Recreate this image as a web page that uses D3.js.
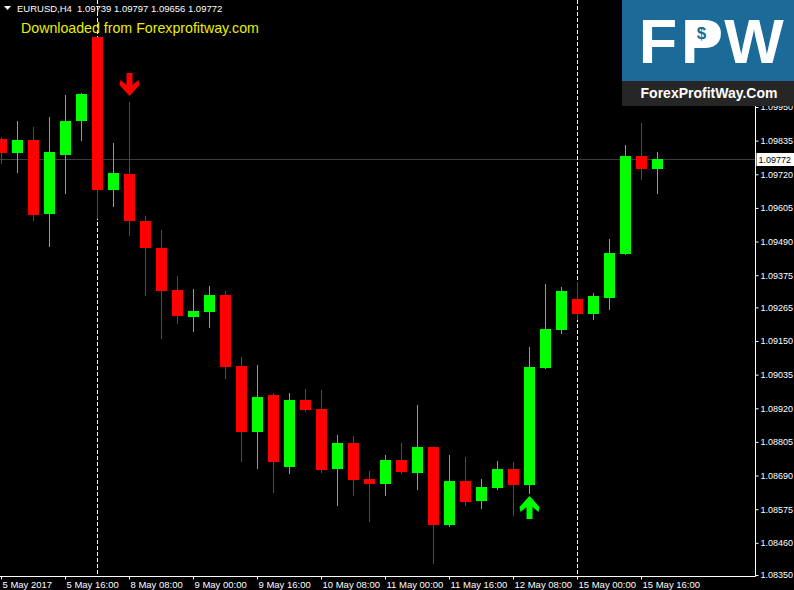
<!DOCTYPE html>
<html><head><meta charset="utf-8">
<script src="https://cdn.jsdelivr.net/npm/d3@7"></script>
<style>html,body{margin:0;padding:0;background:#000;overflow:hidden}svg{display:block}</style>
</head><body>
<script>
// ---- data ----
const symbolTitle = "EURUSD,H4";
const ohlcText = "1.09739 1.09797 1.09656 1.09772";
const watermark = "Downloaded from Forexprofitway.com";
const open  = [1.09841,1.09793,1.09837,1.09584,1.09786,1.09902,1.10189,1.09666,1.09721,1.09560,1.09468,1.09324,1.09232,1.09249,1.09307,1.09065,1.08839,1.08965,1.08719,1.08948,1.08918,1.08712,1.08801,1.08678,1.08661,1.08743,1.08699,1.08788,1.08521,1.08671,1.08603,1.08647,1.08712,1.08658,1.09058,1.09188,1.09294,1.09242,1.09297,1.09447,1.09782,1.09739];
const high  = [1.09847,1.09902,1.09882,1.09916,1.09991,1.09998,1.10189,1.09827,1.09967,1.09577,1.09530,1.09372,1.09328,1.09338,1.09321,1.09095,1.09068,1.08972,1.08972,1.08986,1.08982,1.08829,1.08825,1.08706,1.08760,1.08801,1.08931,1.08788,1.08760,1.08753,1.08678,1.08740,1.08736,1.09130,1.09345,1.09335,1.09352,1.09314,1.09499,1.09820,1.09895,1.09797];
const low   = [1.09759,1.09728,1.09564,1.09475,1.09656,1.09837,1.09571,1.09612,1.09512,1.09307,1.09160,1.09212,1.09184,1.09198,1.09024,1.08740,1.08716,1.08634,1.08699,1.08911,1.08702,1.08589,1.08623,1.08535,1.08623,1.08699,1.08644,1.08391,1.08518,1.08589,1.08579,1.08644,1.08555,1.08630,1.09058,1.09177,1.09225,1.09225,1.09259,1.09447,1.09704,1.09656];
const close = [1.09793,1.09837,1.09581,1.09796,1.09902,1.09994,1.09666,1.09724,1.09560,1.09468,1.09321,1.09236,1.09253,1.09307,1.09061,1.08839,1.08959,1.08736,1.08948,1.08914,1.08709,1.08801,1.08675,1.08661,1.08743,1.08702,1.08788,1.08521,1.08671,1.08600,1.08651,1.08712,1.08658,1.09061,1.09191,1.09321,1.09242,1.09304,1.09451,1.09782,1.09738,1.09772];
const priceTicks = [1.09950,1.09835,1.09720,1.09605,1.09490,1.09375,1.09265,1.09150,1.09035,1.08920,1.08805,1.08690,1.08575,1.08460,1.08350];
const timeLabels = ["5 May 2017","5 May 16:00","8 May 08:00","9 May 00:00","9 May 16:00","10 May 08:00","11 May 00:00","11 May 16:00","12 May 08:00","15 May 00:00","15 May 16:00"];
const timeLabelBars = [0,4,8,12,16,20,24,28,32,36,40];
const separatorBars = [6,36];
const signalBars = [8,33];
const signalDirs = ["down","up"];
const currentPrice = 1.09772;
const logoLetters = ["F","P","W"];
const logoSite = "ForexProfitWay.Com";

// ---- drawing ----
const W = 794, H = 590;
const svg = d3.select("body").append("svg").attr("width", W).attr("height", H);
svg.append("rect").attr("width", W).attr("height", H).attr("fill", "#000");

const x = d3.scaleLinear().domain([0, 41]).range([1, 657]);
const y = d3.scaleLinear().domain([1.0835, 1.0995]).range([575, 107]);
const axisX = 755.5, axisY = 576.5;
const font = "'Liberation Sans', Arial, sans-serif";
const fs = 9.5;
const fsPrice = 9;

// current price line
svg.append("line").attr("x1", 0).attr("x2", axisX).attr("y1", Math.round(y(currentPrice)) + 0.5).attr("y2", Math.round(y(currentPrice)) + 0.5)
  .attr("stroke", "#3c3c3c").attr("stroke-width", 1);

// period separators
svg.selectAll("line.sep").data(separatorBars).enter().append("line")
  .attr("x1", d => Math.round(x(d)) + 0.5).attr("x2", d => Math.round(x(d)) + 0.5)
  .attr("y1", 0).attr("y2", axisY)
  .attr("stroke", "#fff").attr("stroke-width", 1).attr("stroke-dasharray", "4,2");

// candles
const idx = d3.range(open.length);
const col = i => close[i] >= open[i] ? "#00ff00" : "#ff0000";
const g = svg.append("g");
g.selectAll("line.wick").data(idx).enter().append("line")
  .attr("x1", i => Math.round(x(i)) + 0.5).attr("x2", i => Math.round(x(i)) + 0.5)
  .attr("y1", i => Math.round(y(high[i]))).attr("y2", i => Math.round(y(low[i])) + 1)
  .attr("stroke", col).attr("stroke-width", 1);
g.selectAll("rect.body").data(idx).enter().append("rect")
  .attr("x", i => Math.round(x(i)) - 5).attr("width", 11)
  .attr("y", i => Math.round(y(Math.max(open[i], close[i]))))
  .attr("height", i => Math.max(1, Math.round(y(Math.min(open[i], close[i]))) - Math.round(y(Math.max(open[i], close[i])))))
  .attr("fill", col);

// signal arrows
const arrowPath = "M-3,0 L3,0 L3,12 L9,7 L10,12 L0,23 L-10,12 L-9,7 L-3,12 Z";
signalBars.forEach((b, k) => {
  const cx = Math.round(x(b)) + 0.5;
  if (signalDirs[k] === "down") {
    const tip = Math.round(y(high[b])) - 6;
    svg.append("path").attr("d", arrowPath).attr("fill", "#ff0000")
      .attr("transform", `translate(${cx},${tip - 23})`);
  } else {
    const tip = Math.round(y(low[b])) + 3;
    svg.append("path").attr("d", arrowPath).attr("fill", "#00ff00")
      .attr("transform", `translate(${cx},${tip + 23}) scale(1,-1)`);
  }
});

// axes lines
svg.append("line").attr("x1", axisX).attr("x2", axisX).attr("y1", 0).attr("y2", axisY).attr("stroke", "#fff");
svg.append("line").attr("x1", 0).attr("x2", axisX).attr("y1", axisY).attr("y2", axisY).attr("stroke", "#fff");

// right price axis
const yAxis = d3.axisRight(y).tickValues(priceTicks).tickSize(3).tickPadding(2).tickFormat(d3.format(".5f"));
const ya = svg.append("g").attr("transform", `translate(${axisX},0)`).call(yAxis);
ya.select(".domain").remove();
ya.selectAll(".tick line").attr("stroke", "#fff");
ya.selectAll(".tick text").attr("fill", "#fff").attr("font-family", font).attr("font-size", fsPrice);

// current price label
const cpY = Math.round(y(currentPrice));
svg.append("rect").attr("x", axisX + 1).attr("y", cpY - 6).attr("width", W - axisX).attr("height", 13).attr("fill", "#fff");
svg.append("text").attr("x", axisX + 3).attr("y", cpY + 4).attr("fill", "#000")
  .attr("font-family", font).attr("font-size", fsPrice).text(d3.format(".5f")(currentPrice));

// bottom time axis
const xa = svg.append("g");
timeLabelBars.forEach((b, k) => {
  const tx = Math.round(x(b)) + 0.5;
  xa.append("line").attr("x1", tx).attr("x2", tx).attr("y1", axisY).attr("y2", axisY + 3).attr("stroke", "#fff");
  xa.append("text").attr("x", tx + 1).attr("y", 588).attr("fill", "#fff")
    .attr("font-family", font).attr("font-size", fs).text(timeLabels[k]);
});

// header
svg.append("path").attr("d", "M4,6 L11,6 L7.5,10 Z").attr("fill", "#fff");
svg.append("text").attr("x", 17).attr("y", 12).attr("fill", "#fff").attr("font-family", font).attr("font-size", fs)
  .text(symbolTitle);
svg.append("text").attr("x", 77).attr("y", 12).attr("fill", "#fff").attr("font-family", font).attr("font-size", fs)
  .text(ohlcText);
svg.append("text").attr("x", 21).attr("y", 33).attr("fill", "#e8ee00").attr("font-family", font).attr("font-size", 14.2)
  .text(watermark);

// logo
const logo = svg.append("g");
logo.append("rect").attr("x", 622).attr("y", 0).attr("width", 172).attr("height", 81).attr("fill", "#1b6a98");
logo.append("rect").attr("x", 622).attr("y", 81).attr("width", 172).attr("height", 25).attr("fill", "#262626");
const letterX = [658, 702, 754];
logo.selectAll("text.big").data(logoLetters).enter().append("text")
  .attr("x", (d, i) => letterX[i]).attr("y", 63).attr("text-anchor", "middle")
  .attr("fill", "#fff").attr("font-family", font).attr("font-weight", "bold").attr("font-size", 63).text(d => d);
// filled bowl of the P with a blue dollar sign
logo.append("rect").attr("x", 692).attr("y", 22).attr("width", 20).attr("height", 22).attr("fill", "#fff");
logo.append("text").attr("x", 701.5).attr("y", 39).attr("text-anchor", "middle").attr("fill", "#1b6a98")
  .attr("font-family", font).attr("font-weight", "bold").attr("font-size", 17).text("$");
logo.append("text").attr("x", 709).attr("y", 98).attr("text-anchor", "middle").attr("fill", "#fff")
  .attr("font-family", font).attr("font-weight", "bold").attr("font-size", 14).text(logoSite);
</script>
</body></html>
